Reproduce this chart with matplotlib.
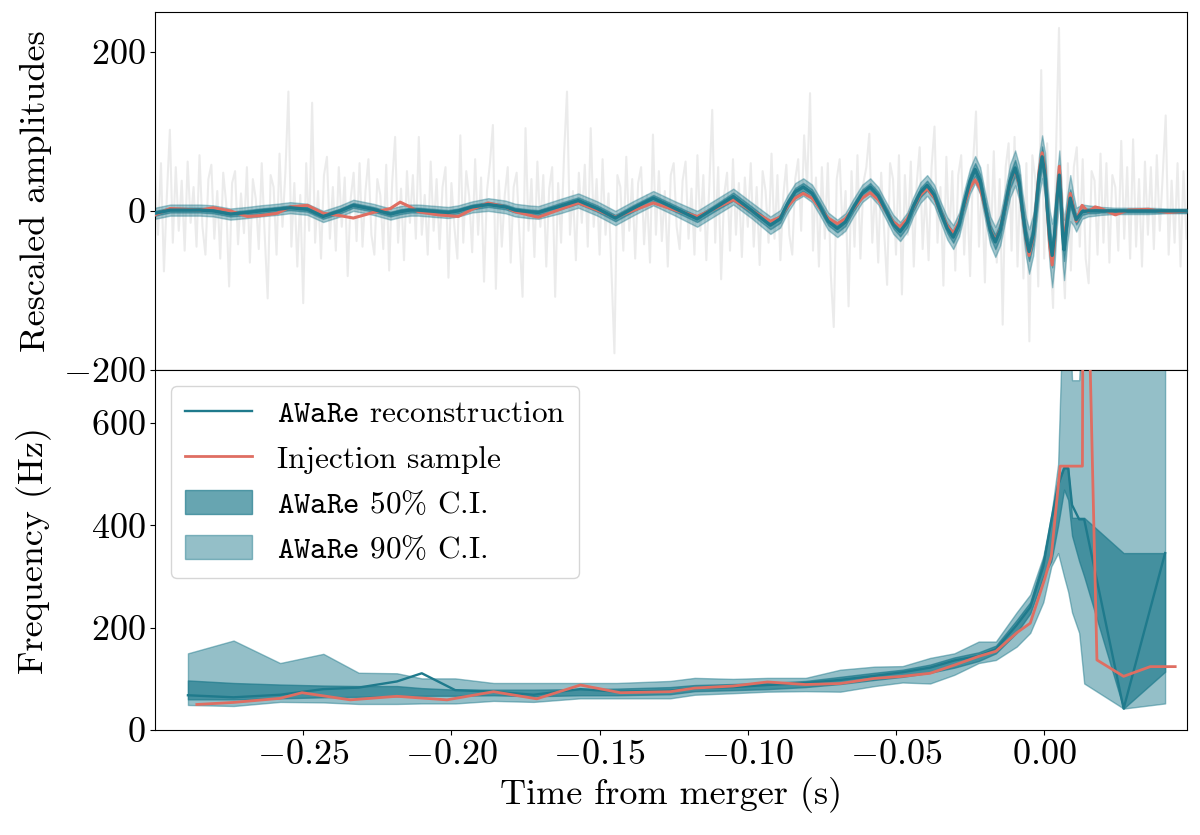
import numpy as np
import matplotlib
matplotlib.use("Agg")
import matplotlib.pyplot as plt

plt.rcParams['font.family'] = 'serif'
plt.rcParams['font.serif'] = ['cmr10']
plt.rcParams['mathtext.fontset'] = 'cm'
plt.rcParams['axes.formatter.use_mathtext'] = True
plt.rcParams['axes.unicode_minus'] = True

BLUE = '#1F7A8C'
RED = '#DF6E62'

# ---------------- top panel: whitened strain ----------------
noise_t0 = -0.300
noise_dt = 0.001
noise = [
    45, -30, 60, -76, 20, 102, -40, 55, -25, 38,
    -50, 62, -15, 30, -45, 70, -20, -55, 40, 58,
    -35, 25, -60, 48, 10, -95, 35, 50, -42, 22,
    -28, 55, -65, 40, 15, -48, 60, -30, -110, 45,
    30, -55, 72, -20, 50, 150, -45, 35, -70, 20,
    -116, 60, -25, 136, -40, 25, -60, 45, 68, -35,
    30, -50, 55, -20, 42, -82, 15, 48, -38, 60,
    -45, 25, 65, -30, -55, 40, 20, -48, 58, -75,
    35, 93, -40, 28, -62, 50, -15, 45, -35, 93,
    -30, 20, -55, 62, -25, 40, -48, 30, 55, -84,
    35, -20, -60, 95, -40, 50, 18, -52, 65, -30,
    42, -89, 25, 60, 108, -98, 38, -45, 20, 55,
    -65, 30, 48, -35, -108, 104, -25, 40, -58, 62,
    -20, 45, -70, 28, 55, -108, 35, -40, 70, 150,
    -30, 25, -62, 48, -15, 58, -45, 104, -20, 40,
    -55, 65, -30, 22, -75, -179, 45, 30, -50, 68,
    -25, 40, -60, 35, 55, -42, 20, -65, 96, -30,
    50, -38, 25, -70, 45, 60, -20, -48, 38, 62,
    -35, 28, -55, 70, -25, 45, -62, 30, 127, -40,
    55, -86, 20, 48, -50, 65, -30, 35, -58, 42,
    -20, 60, -45, 30, -68, 50, 25, -40, 72, -35,
    45, -62, 20, 58, -30, -55, 40, 65, -25, 95,
    30, 148, -50, 42, -70, 55, -35, 60, -80, -146,
    40, 65, -30, 25, -120, 50, -45, 70, -60, 35,
    55, 97, -40, 30, -65, 48, -25, -93, 60, 40,
    -55, 70, -105, 45, -30, 62, -70, 35, 80, -48,
    25, -62, 55, 106, -40, 30, -94, 68, -35, 50,
    -75, 45, 70, -55, 30, -82, 60, 125, -45, 35,
    -90, 58, -40, 75, -65, 40, -143, 55, 85, -50,
    93, -70, 45, -85, 60, -164, 70, 40, -95, 177,
    -60, 85, -50, -122, 75, 230, -40, -110, 60, -75,
    55, 80, -45, 65, -60, -91, 50, 38, -55, 72,
    -40, 60, -65, 45, 30, -50, 88, -35, 55, -60,
    90, -45, 40, -70, 62, -30, 55, -48, 70, -25,
    45, 120, -55, 38, -40, 60, -70, 50, -35,
]

t_wave = [
    -0.3000, -0.2949, -0.2848, -0.2804, -0.2746, -0.2689, -0.2645, -0.2588, -0.2544, -0.2486,
    -0.2433, -0.2375, -0.2331, -0.2264, -0.2206, -0.2173, -0.2139, -0.2112, -0.2045, -0.2011,
    -0.1977, -0.1930, -0.1876, -0.1818, -0.1785, -0.1741, -0.1707, -0.1633, -0.1572, -0.1508,
    -0.1447, -0.1383, -0.1319, -0.1245, -0.1171, -0.1110, -0.1049, -0.0985, -0.0924, -0.0891,
    -0.0867, -0.0840, -0.0813, -0.0783, -0.0756, -0.0729, -0.0698, -0.0671, -0.0644, -0.0614,
    -0.0587, -0.0560, -0.0536, -0.0509, -0.0486, -0.0462, -0.0442, -0.0418, -0.0395, -0.0371,
    -0.0351, -0.0327, -0.0307, -0.0287, -0.0270, -0.0250, -0.0233, -0.0216, -0.0199, -0.0182,
    -0.0165, -0.0148, -0.0132, -0.0115, -0.0098, -0.0084, -0.0074, -0.0061, -0.0051, -0.0037,
    -0.0027, -0.0017, -0.0007, 0.0003, 0.0010, 0.0019, 0.0027, 0.0035, 0.0042, 0.0051,
    0.0057, 0.0062, 0.0067, 0.0078, 0.0088, 0.0098, 0.0108, 0.0128, 0.0148, 0.0172,
    0.0192, 0.0240, 0.0283, 0.0351, 0.0418, 0.0482,
]
recon_amp = [
    -3, 1, 1, 0, -4, -2, 0, 2, 4, 2,
    -7, 0, 7, 2, -4, -1, 1, 1, -1, -2,
    0, 5, 8, 5, 1, -1, -2, 6, 13, 3,
    -9, 4, 16, 3, -10, 4, 18, 0, -18, -10,
    8, 24, 30, 22, 5, -13, -22, -14, 4, 22,
    30, 19, 2, -17, -26, -14, 5, 23, 32, 20,
    0, -22, -33, -17, 10, 38, 52, 38, 5, -25,
    -39, -24, 6, 38, 54, 35, 2, -34, -51, -30,
    6, 45, 68, 45, 5, -35, -56, -30, 10, 45,
    10, -30, -49, -10, 16, 2, -11, -1, 0, 0,
    0, 0, 0, 0, 0, 0,
]
inj_amp = [
    -5, 3, 1, 4, 0, -7, -6, -3, 5, 7,
    -3, -6, -9, -2, 3, 11, 5, -1, -5, -6,
    -7, 2, 10, 5, -1, -5, -8, 2, 10, 1,
    -8, 1, 10, 1, -7, 3, 14, 0, -13, -8,
    5, 16, 22, 16, 3, -9, -16, -10, 3, 16,
    23, 14, 1, -14, -20, -10, 4, 20, 28, 17,
    0, -19, -28, -14, 8, 29, 39, 28, 4, -24,
    -37, -23, 6, 37, 52, 33, 0, -36, -56, -32,
    8, 50, 73, 50, 5, -45, -68, -38, 10, 56,
    15, -20, -39, -5, 22, 5, -13, 7, -1, 5,
    3, -5, 1, 2, -2, 0,
]
w50_amp = [
    3, 3, 3, 3, 3, 3, 3, 3, 3, 3,
    3, 3, 3, 3, 3, 3, 3, 3, 3, 3,
    3, 3, 3, 3, 3, 3, 3, 4, 4, 4,
    4, 4, 4, 4, 4, 4, 5, 5, 5, 5,
    5, 5, 5, 5, 5, 5, 5, 5, 5, 5,
    5, 5, 5, 5, 6, 6, 6, 6, 6, 6,
    6, 6, 7, 7, 7, 8, 8, 8, 8, 8,
    9, 9, 9, 10, 10, 10, 10, 11, 12, 12,
    12, 12, 13, 13, 13, 14, 15, 14, 13, 13,
    13, 14, 14, 12, 11, 8, 6, 4, 3, 3,
    2, 2, 2, 2, 2, 2,
]
w90_amp = [
    7, 7, 7, 7, 7, 7, 7, 7, 7, 7,
    7, 7, 7, 7, 7, 7, 7, 7, 7, 7,
    7, 7, 8, 8, 8, 8, 8, 9, 9, 9,
    9, 9, 9, 9, 10, 10, 10, 10, 11, 11,
    11, 11, 11, 11, 11, 11, 11, 11, 11, 11,
    11, 11, 11, 12, 12, 12, 12, 13, 13, 13,
    13, 14, 15, 15, 15, 16, 17, 17, 17, 18,
    19, 19, 20, 21, 22, 22, 22, 25, 28, 26,
    25, 26, 27, 28, 30, 35, 40, 36, 32, 31,
    32, 36, 38, 30, 29, 20, 15, 9, 7, 6,
    5, 4, 4, 4, 3, 3,
]

# ---------------- bottom panel: frequency ----------------
t_freq = [
    -0.2889, -0.2735, -0.2578, -0.2432, -0.2313, -0.2184, -0.2100, -0.1987, -0.1858, -0.1723,
    -0.1565, -0.1442, -0.1262, -0.1179, -0.1050, -0.0934, -0.0805, -0.0688, -0.0572, -0.0478,
    -0.0385, -0.0303, -0.0221, -0.0163, -0.0093, -0.0047, -0.0003, 0.0024, 0.0047, 0.0067,
    0.0081, 0.0094, 0.0118, 0.0135, 0.0268, 0.0408,
]
f_rec = [68, 64, 69, 80, 83, 95, 111, 78, 75, 69,
         80, 75, 77, 82, 84, 88, 92, 98, 106, 113,
         122, 136, 145, 158, 205, 240, 320, 410, 480, 512,
         512, 440, 412, 412, 42, 346]
f50_lo = [60, 60, 62, 64, 65, 66, 67, 67, 68, 66,
          68, 68, 70, 76, 78, 80, 84, 90, 98, 104,
          112, 122, 135, 150, 190, 228, 300, 330, 400, 470,
          450, 380, 330, 300, 42, 114]
f50_hi = [97, 92, 89, 87, 86, 86, 82, 79, 79, 79,
          80, 81, 84, 88, 90, 92, 96, 104, 112, 118,
          128, 142, 152, 165, 215, 250, 335, 412, 480, 512,
          512, 415, 415, 415, 346, 346]
f90_lo = [49, 47, 55, 54, 51, 51, 52, 52, 57, 55,
          62, 62, 62, 69, 72, 75, 76, 75, 86, 93,
          91, 108, 131, 137, 163, 190, 250, 320, 346, 300,
          270, 230, 190, 91, 42, 52]
f90_hi = [150, 175, 131, 149, 112, 111, 101, 101, 92, 92,
          92, 92, 96, 102, 100, 102, 102, 118, 124, 125,
          141, 150, 173, 173, 230, 265, 340, 420, 520, 900,
          900, 684, 684, 900, 900, 900]

t_inj = [-0.2859, -0.2735, -0.2578, -0.2504, -0.2341, -0.2184, -0.2015, -0.1858, -0.1712, -0.1565,
         -0.1430, -0.1262, -0.1179, -0.1050, -0.0934, -0.0805, -0.0688, -0.0572, -0.0478, -0.0385,
         -0.0303, -0.0221, -0.0163, -0.0093, -0.0047, 0.0001, 0.0024, 0.0054, 0.0129, 0.0133,
         0.0178, 0.0268, 0.0358, 0.0442]
f_inj = [50, 54, 62, 73, 59, 66, 59, 75, 61, 88,
         73, 75, 82, 86, 94, 89, 91, 101, 105, 111,
         127, 144, 154, 190, 209, 294, 340, 516, 516, 1270,
         137, 105, 124, 124]

x_ticks = [-0.25, -0.20, -0.15, -0.10, -0.05, 0.00]
x_ticklabels = ['$-0.25$', '$-0.20$', '$-0.15$', '$-0.10$', '$-0.05$', '$0.00$']

# ---------------- figure ----------------
fig = plt.figure(figsize=(12, 8.35), dpi=100)
ax1 = fig.add_axes([0.1292, 0.5569, 0.8600, 0.4287])
ax2 = fig.add_axes([0.1292, 0.1257, 0.8600, 0.4312], sharex=ax1)

tn = noise_t0 + noise_dt * np.arange(len(noise))
ax1.plot(tn, noise, color='0.55', alpha=0.17, lw=1.5, zorder=1)

tw = np.array(t_wave)
rw = np.array(recon_amp, dtype=float)
ax1.fill_between(tw, rw - np.array(w90_amp), rw + np.array(w90_amp), color=BLUE, alpha=0.40, lw=1, zorder=2)
ax1.fill_between(tw, rw - np.array(w50_amp), rw + np.array(w50_amp), color=BLUE, alpha=0.55, lw=1, zorder=3)
ax1.plot(tw, inj_amp, color=RED, lw=2.2, zorder=4)
ax1.plot(tw, rw, color=BLUE, lw=2.4, zorder=5)

ax1.set_ylim(-200, 250)
ax1.set_yticks([-200, 0, 200])
ax1.set_ylabel('Rescaled amplitudes', fontsize=26)
ax1.tick_params(axis='x', bottom=False, labelbottom=False)

h90 = ax2.fill_between(t_freq, f90_lo, f90_hi, color=BLUE, alpha=0.48, lw=1, zorder=2,
                       label=r'$\mathtt{AWaRe}$ 90% C.I.')
h50 = ax2.fill_between(t_freq, f50_lo, f50_hi, color=BLUE, alpha=0.68, lw=1, zorder=3,
                       label=r'$\mathtt{AWaRe}$ 50% C.I.')
hr, = ax2.plot(t_freq, f_rec, color=BLUE, lw=1.7, zorder=4, label=r'$\mathtt{AWaRe}$ reconstruction')
hi, = ax2.plot(t_inj, f_inj, color=RED, lw=2.0, zorder=5, label='Injection sample')

ax2.set_ylim(0, 704)
ax2.set_yticks([0, 200, 400, 600])
ax2.set_xlim(-0.300, 0.0482)
ax2.set_xticks(x_ticks)
ax2.set_xticklabels(x_ticklabels)
ax2.set_xlabel('Time from merger (s)', fontsize=26)
ax2.set_ylabel('Frequency (Hz)', fontsize=26)

for ax in (ax1, ax2):
    ax.tick_params(axis='both', labelsize=26)
    ax.yaxis.set_label_coords(-0.10, 0.5)

leg = ax2.legend(handles=[hr, hi, h50, h90], loc='upper left', fontsize=22.5,
                 handlelength=2.15, labelspacing=0.52, handleheight=0.8,
                 borderpad=0.45)

fig.savefig('out.png', dpi=100)
